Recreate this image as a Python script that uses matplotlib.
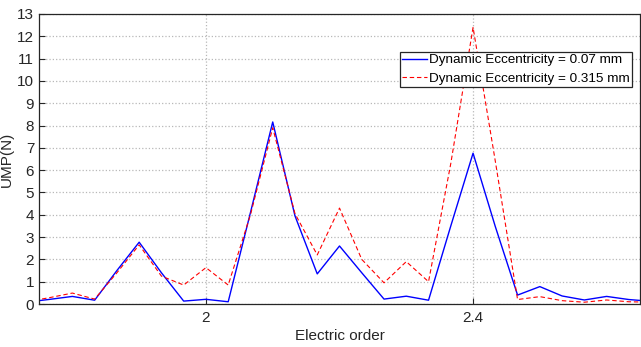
import numpy as np
import matplotlib
matplotlib.use("Agg")
import matplotlib.pyplot as plt

plt.rcParams['font.family'] = ['Liberation Sans', 'DejaVu Sans']

# harmonic index k, electric order = k / 30
order_idx = np.arange(52, 81)
orders = order_idx / 30.0

ump_007 = [0.09, 0.21, 0.34, 0.17, 1.5, 2.77, 1.4, 0.13, 0.21, 0.1,
           4.1, 8.16, 3.95, 1.35, 2.6, 1.4, 0.22, 0.35, 0.17, 3.5,
           6.76, 3.47, 0.4, 0.78, 0.36, 0.18, 0.34, 0.2, 0.12]
ump_0315 = [0.11, 0.29, 0.49, 0.22, 1.4, 2.65, 1.25, 0.85, 1.63, 0.85,
            4.0, 7.9, 4.05, 2.2, 4.3, 2.0, 0.95, 1.9, 1.0, 6.3,
            12.4, 6.4, 0.2, 0.33, 0.15, 0.08, 0.18, 0.1, 0.08]

labels = ['Dynamic Eccentricity = 0.07 mm', 'Dynamic Eccentricity = 0.315 mm']
xticks = [2.0, 2.4]
xtick_labels = ['2', '2.4']
yticks = list(range(0, 14))

fig = plt.figure(figsize=(6.41, 3.47), dpi=100)
ax = fig.add_axes([39 / 641, 43 / 347, 601 / 641, 290 / 347])

ax.plot(orders, ump_007, color='#0000ff', lw=1.0, label=labels[0])
ax.plot(orders, ump_0315, color='#ff0000', lw=0.8, ls=(0, (4, 2.5)), label=labels[1])

ax.set_xlim(1.75, 2.65)
ax.set_ylim(0, 13)
ax.set_xticks(xticks)
ax.set_xticklabels(xtick_labels)
ax.set_yticks(yticks)
ax.tick_params(direction='in', length=4, width=0.8, labelsize=11, colors='#262626')
ax.tick_params(axis='x', pad=5)
ax.grid(True, color='#b8b8b8', ls=':', lw=0.9)
for s in ax.spines.values():
    s.set_color('#262626')
    s.set_linewidth(0.9)

ax.set_xlabel('Electric order', fontsize=11, color='#262626', labelpad=3)
ax.set_ylabel('UMP(N)', fontsize=11, color='#262626', labelpad=2)

leg = ax.legend(loc='upper right', bbox_to_anchor=((632 - 39) / 601, (304 - 52) / 290),
                borderaxespad=0, fancybox=False, framealpha=1, edgecolor='#262626',
                fontsize=9.7, handlelength=1.9, handletextpad=0.15, borderpad=0.15,
                labelspacing=0.45)
leg.get_frame().set_linewidth(0.9)

fig.savefig('out.png', dpi=100)
